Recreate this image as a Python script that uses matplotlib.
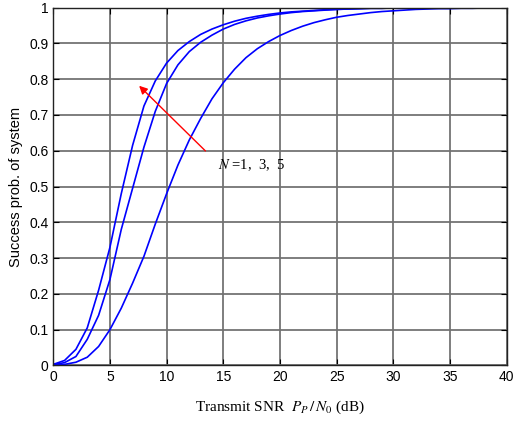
import matplotlib
matplotlib.use('Agg')
import matplotlib.pyplot as plt
import numpy as np

snr_db = np.arange(0, 41)

# N = 1 (leftmost curve)
p_n1 = [0.003, 0.014, 0.045, 0.105, 0.21, 0.33, 0.48, 0.615, 0.725, 0.795,
        0.845, 0.88, 0.905, 0.925, 0.94, 0.952, 0.962, 0.97, 0.976, 0.981,
        0.985, 0.988, 0.99, 0.992, 0.994, 0.995, 0.996, 0.997, 0.998, 0.998,
        0.999, 0.999, 0.999, 0.999, 1.0, 1.0, 1.0, 1.0, 1.0, 1.0, 1.0]
# N = 3 (middle curve)
p_n3 = [0.002, 0.008, 0.025, 0.073, 0.14, 0.24, 0.38, 0.495, 0.61, 0.71,
        0.788, 0.84, 0.877, 0.903, 0.923, 0.94, 0.953, 0.963, 0.971, 0.977,
        0.982, 0.986, 0.989, 0.991, 0.993, 0.995, 0.996, 0.997, 0.998, 0.998,
        0.999, 0.999, 0.999, 0.999, 1.0, 1.0, 1.0, 1.0, 1.0, 1.0, 1.0]
# N = 5 (rightmost curve)
p_n5 = [0.001, 0.003, 0.009, 0.023, 0.053, 0.10, 0.16, 0.23, 0.305, 0.395,
        0.48, 0.56, 0.63, 0.69, 0.745, 0.79, 0.828, 0.86, 0.885, 0.905,
        0.922, 0.936, 0.948, 0.958, 0.966, 0.973, 0.978, 0.982, 0.986, 0.989,
        0.991, 0.993, 0.995, 0.996, 0.997, 0.997, 0.998, 0.998, 0.999, 0.999, 0.999]

xticks = np.arange(0, 41, 5)
yticks = np.round(np.arange(0, 1.01, 0.1), 1)

plt.rcParams['font.family'] = ['Liberation Sans', 'DejaVu Sans']
plt.rcParams['mathtext.fontset'] = 'stix'

fig = plt.figure(figsize=(5.17, 4.22), dpi=100)
ax = fig.add_axes([0.103, 0.134, 0.877, 0.848])

for p in (p_n1, p_n3, p_n5):
    ax.plot(snr_db, p, color='#0000ff', linewidth=1.2)

ax.set_xlim(0, 40)
ax.set_ylim(0, 1)
ax.set_xticks(xticks)
ax.set_yticks(yticks)
ax.set_yticklabels(['0' if v == 0 else ('1' if v == 1 else '{:.1f}'.format(v)) for v in yticks])
ax.tick_params(direction='in', top=True, right=True, labelsize=10, length=4, width=0.8)
ax.grid(True, color='#707070', linewidth=1.4, alpha=0.9)
for s in ax.spines.values():
    s.set_linewidth(1.0)
    s.set_color('#222222')

ax.set_ylabel('Success prob. of system', fontsize=10.5)
ax.set_xlabel(r'Transmit SNR  $P_P\,/\,N_0$ (dB)', fontsize=11,
              family=['Liberation Serif', 'DejaVu Serif'], labelpad=10)

ax.annotate('', xy=(7.4, 0.787), xytext=(13.6, 0.594),
            arrowprops=dict(arrowstyle='-|>', color='red', lw=1.0, mutation_scale=12))
ax.text(14.5, 0.56, r'$N$ =1,  3,  5', fontsize=10.5, va='center',
        family=['Liberation Serif', 'DejaVu Serif'])

fig.savefig('out.png', dpi=100)
